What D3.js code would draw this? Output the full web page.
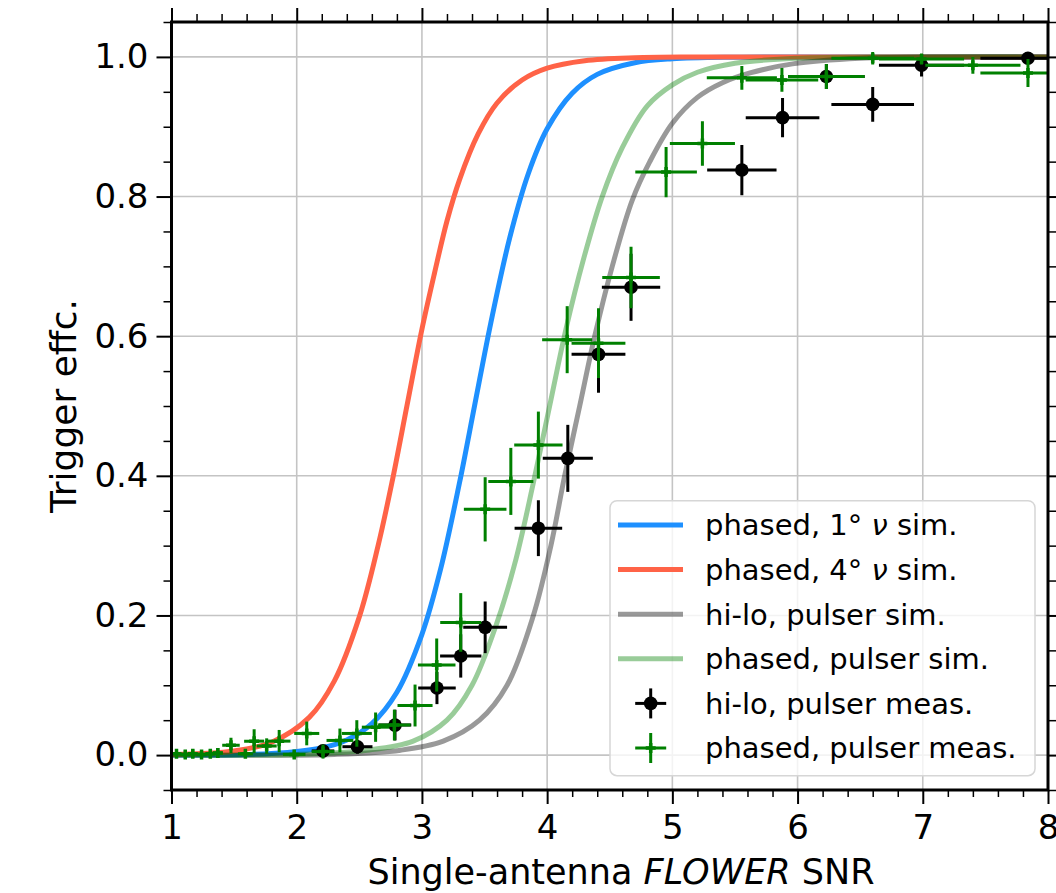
<!DOCTYPE html>
<html>
<head>
<meta charset="utf-8">
<script src="https://cdn.jsdelivr.net/npm/d3@7"></script>
<style>
  body { margin: 0; background: #fff; }
  svg { display: block; }
  text { font-family: "DejaVu Sans", "Noto Sans", sans-serif; fill: #000; }
</style>
</head>
<body>
<svg id="chart" width="1056" height="893"></svg>
<script>
// ---- axis ticks ----
const snrTicks = [1, 2, 3, 4, 5, 6, 7, 8];
const snrTickLabels = ["1", "2", "3", "4", "5", "6", "7", "8"];
const effTicks = [0, 0.2, 0.4, 0.6, 0.8, 1.0];
const effTickLabels = ["0.0", "0.2", "0.4", "0.6", "0.8", "1.0"];

// ---- simulated efficiency curves: [SNR, efficiency] ----
const phased1DegSim = [[1.0,0.0001],[1.8,0.0024],[2.2,0.0104],[2.4,0.0217],[2.6,0.045],[2.8,0.09],[3.0,0.173],[3.15,0.267],[3.3,0.39],[3.42,0.5],[3.55,0.619],[3.7,0.74],[3.85,0.833],[4.0,0.897],[4.2,0.948],[4.4,0.975],[4.7,0.9917],[5.0,0.9973],[5.5,0.9996],[6.5,1.0],[8,1.0]];
const phased4DegSim = [[1.0,0.001],[1.5,0.006],[1.8,0.0185],[2.1,0.054],[2.3,0.106],[2.5,0.198],[2.65,0.3],[2.76,0.39],[2.88,0.5],[3.0,0.61],[3.1,0.69],[3.2,0.765],[3.3,0.824],[3.45,0.89],[3.6,0.934],[3.8,0.967],[4.0,0.984],[4.3,0.9946],[4.7,0.9988],[5.2,0.9998],[6.0,1.0],[8,1.0]];
const hiloPulserSim = [[1.0,0],[2.3,0.001],[2.83,0.007],[3.17,0.02],[3.46,0.05],[3.68,0.1],[3.89,0.2],[4.03,0.3],[4.14,0.4],[4.26,0.5],[4.38,0.6],[4.52,0.7],[4.68,0.795],[4.82,0.85],[5.0,0.905],[5.2,0.942],[5.4,0.963],[5.62,0.977],[5.96,0.99],[6.5,0.998],[7.2,1.0],[8,1.0]];
const phasedPulserSim = [[1.0,0],[2.0,0.001],[2.56,0.007],[2.93,0.02],[3.2,0.05],[3.4,0.1],[3.6,0.19],[3.75,0.28],[3.89,0.39],[4.02,0.5],[4.15,0.61],[4.29,0.71],[4.44,0.8],[4.6,0.87],[4.8,0.93],[5.0,0.96],[5.2,0.978],[5.5,0.991],[6.0,0.998],[6.8,1.0],[8,1.0]];

// ---- hi-lo trigger, pulser measurements ----
const hiloSnr    = [2.21, 2.485, 2.785, 3.12, 3.31, 3.505, 3.93, 4.165, 4.41, 4.67, 5.555, 5.88, 6.23, 6.60, 6.99, 7.84];
const hiloEff    = [0.006, 0.012, 0.043, 0.096, 0.142, 0.183, 0.325, 0.425, 0.574, 0.670, 0.838, 0.913, 0.972, 0.932, 0.988, 0.998];
const hiloSnrErr = [0.09, 0.12, 0.13, 0.15, 0.165, 0.175, 0.19, 0.2, 0.215, 0.233, 0.277, 0.294, 0.306, 0.33, 0.34, 0.38];
const hiloEffErr = [0.008, 0.01, 0.022, 0.023, 0.031, 0.037, 0.04, 0.048, 0.055, 0.048, 0.036, 0.028, 0.018, 0.025, 0.016, 0.005];

// ---- phased trigger, pulser measurements ----
const phasedSnr    = [1.04, 1.11, 1.17, 1.24, 1.31, 1.37, 1.475, 1.59, 1.66, 1.76, 1.86, 1.98, 2.08, 2.21, 2.345, 2.48, 2.63, 2.78, 2.945, 3.118, 3.31, 3.505, 3.71, 3.93, 4.16, 4.41, 4.67, 4.95, 5.24, 5.555, 5.875, 6.23, 6.60, 6.99, 7.40, 7.84];
const phasedEff    = [0.002, 0.001, 0.002, 0.001, 0.002, 0.003, 0.014, 0.002, 0.020, 0.013, 0.020, 0.001, 0.031, 0.005, 0.021, 0.031, 0.040, 0.043, 0.071, 0.129, 0.19, 0.352, 0.392, 0.444, 0.595, 0.590, 0.684, 0.835, 0.876, 0.970, 0.967, 0.972, 0.998, 0.997, 0.988, 0.977];
const phasedSnrErr = [0.03, 0.03, 0.03, 0.03, 0.03, 0.04, 0.07, 0.06, 0.08, 0.08, 0.09, 0.09, 0.1, 0.09, 0.107, 0.12, 0.11, 0.13, 0.14, 0.15, 0.164, 0.17, 0.18, 0.193, 0.2, 0.215, 0.23, 0.246, 0.26, 0.28, 0.29, 0.306, 0.33, 0.34, 0.38, 0.38];
const phasedEffErr = [0.006, 0.006, 0.006, 0.006, 0.006, 0.007, 0.011, 0.005, 0.017, 0.011, 0.016, 0.004, 0.017, 0.01, 0.017, 0.019, 0.021, 0.022, 0.03, 0.038, 0.042, 0.046, 0.048, 0.048, 0.048, 0.05, 0.044, 0.036, 0.032, 0.017, 0.017, 0.018, 0.009, 0.008, 0.012, 0.02];

// ---- legend entries ----
const legendLabels = [
  ["phased, 1°  ", "ν", " sim."],
  ["phased, 4°  ", "ν", " sim."],
  ["hi-lo, pulser sim."],
  ["phased, pulser sim."],
  ["hi-lo, pulser meas."],
  ["phased, pulser meas."]
];

const svg = d3.select("#chart");
const plot = { left: 171.5, right: 1048, top: 22, bottom: 790 };

const x = d3.scaleLinear().domain([1, 8]).range([plot.left, plot.right]);
const y = d3.scaleLinear().domain([-0.05, 1.05]).range([plot.bottom, plot.top]);

svg.append("defs").append("clipPath").attr("id", "plot-clip")
  .append("rect")
  .attr("x", plot.left).attr("y", plot.top)
  .attr("width", plot.right - plot.left).attr("height", plot.bottom - plot.top);

// grid
const grid = svg.append("g").attr("stroke", "#c4c4c4").attr("stroke-width", 1.6);
grid.selectAll("line.gx").data(snrTicks).join("line").attr("class", "gx")
  .attr("x1", d => x(d)).attr("x2", d => x(d))
  .attr("y1", plot.top).attr("y2", plot.bottom);
grid.selectAll("line.gy").data(effTicks).join("line").attr("class", "gy")
  .attr("x1", plot.left).attr("x2", plot.right)
  .attr("y1", d => y(d)).attr("y2", d => y(d));

// minor tick positions
const minorSnr = d3.range(1, 8.0001, 0.2).filter(v => Math.abs(v - Math.round(v)) > 1e-6);
const minorEff = d3.range(-0.05, 1.0501, 0.05).filter(v => Math.abs(v * 5 - Math.round(v * 5)) > 1e-6);

function styleAxis(sel, width) {
  sel.select(".domain").remove();
  sel.selectAll(".tick line").attr("stroke", "#000").attr("stroke-width", width);
  sel.selectAll(".tick text").style("font-size", "34px").attr("fill", "#000");
}

const labelFor = (ticks, labels) => d => labels[ticks.findIndex(t => Math.abs(t - d) < 1e-9)];

// bottom axis
svg.append("g").attr("transform", `translate(0,${plot.bottom})`)
  .call(d3.axisBottom(x).tickValues(snrTicks).tickSize(14).tickPadding(11)
    .tickFormat(labelFor(snrTicks, snrTickLabels)))
  .call(s => styleAxis(s, 2));
svg.append("g").attr("transform", `translate(0,${plot.bottom})`)
  .call(d3.axisBottom(x).tickValues(minorSnr).tickSize(7).tickFormat(""))
  .call(s => styleAxis(s, 1.5));
// top axis
svg.append("g").attr("transform", `translate(0,${plot.top})`)
  .call(d3.axisTop(x).tickValues(snrTicks).tickSize(14).tickFormat(""))
  .call(s => styleAxis(s, 2));
svg.append("g").attr("transform", `translate(0,${plot.top})`)
  .call(d3.axisTop(x).tickValues(minorSnr).tickSize(8).tickFormat(""))
  .call(s => styleAxis(s, 1.5));
// left axis
svg.append("g").attr("transform", `translate(${plot.left},0)`)
  .call(d3.axisLeft(y).tickValues(effTicks).tickSize(15).tickPadding(8)
    .tickFormat(labelFor(effTicks, effTickLabels)))
  .call(s => styleAxis(s, 2));
svg.append("g").attr("transform", `translate(${plot.left},0)`)
  .call(d3.axisLeft(y).tickValues(minorEff).tickSize(8).tickFormat(""))
  .call(s => styleAxis(s, 1.5));
// right axis
svg.append("g").attr("transform", `translate(${plot.right},0)`)
  .call(d3.axisRight(y).tickValues(effTicks).tickSize(15).tickFormat(""))
  .call(s => styleAxis(s, 2));
svg.append("g").attr("transform", `translate(${plot.right},0)`)
  .call(d3.axisRight(y).tickValues(minorEff).tickSize(8).tickFormat(""))
  .call(s => styleAxis(s, 1.5));

// simulated curves
const line = d3.line().x(d => x(d[0])).y(d => y(d[1])).curve(d3.curveCatmullRom.alpha(0.5));
const curves = [
  { data: phased1DegSim, color: "#1e90ff", opacity: 1 },
  { data: phased4DegSim, color: "#ff6347", opacity: 1 },
  { data: hiloPulserSim, color: "#000000", opacity: 0.4 },
  { data: phasedPulserSim, color: "#008000", opacity: 0.4 }
];
const curveLayer = svg.append("g").attr("clip-path", "url(#plot-clip)");
curveLayer.selectAll("path").data(curves).join("path")
  .attr("d", d => line(d.data))
  .attr("fill", "none")
  .attr("stroke", d => d.color)
  .attr("stroke-opacity", d => d.opacity)
  .attr("stroke-width", 5);

// measured points with error bars
function drawErrorbars(snr, eff, snrErr, effErr, color, marker) {
  const pts = snr.map((s, i) => ({ s, e: eff[i], se: snrErr[i], ee: effErr[i] }));
  const layer = svg.append("g").attr("clip-path", "url(#plot-clip)")
    .attr("stroke", color).attr("stroke-width", 3);
  layer.selectAll("line.h").data(pts).join("line").attr("class", "h")
    .attr("x1", d => x(d.s - d.se)).attr("x2", d => x(d.s + d.se))
    .attr("y1", d => y(d.e)).attr("y2", d => y(d.e));
  layer.selectAll("line.v").data(pts).join("line").attr("class", "v")
    .attr("x1", d => x(d.s)).attr("x2", d => x(d.s))
    .attr("y1", d => y(d.e - d.ee)).attr("y2", d => y(d.e + d.ee));
  if (marker === "dot") {
    layer.selectAll("circle").data(pts).join("circle")
      .attr("cx", d => x(d.s)).attr("cy", d => y(d.e)).attr("r", 6.8)
      .attr("fill", color).attr("stroke", "none");
  } else {
    layer.selectAll("path.plus").data(pts).join("path").attr("class", "plus")
      .attr("d", d => `M${x(d.s) - 5},${y(d.e)}H${x(d.s) + 5}M${x(d.s)},${y(d.e) - 5}V${y(d.e) + 5}`)
      .attr("stroke-width", 3.5).attr("fill", "none");
  }
}
drawErrorbars(hiloSnr, hiloEff, hiloSnrErr, hiloEffErr, "#000000", "dot");
drawErrorbars(phasedSnr, phasedEff, phasedSnrErr, phasedEffErr, "#008000", "plus");

// frame
svg.append("rect")
  .attr("x", plot.left).attr("y", plot.top)
  .attr("width", plot.right - plot.left).attr("height", plot.bottom - plot.top)
  .attr("fill", "none").attr("stroke", "#000").attr("stroke-width", 3);

// axis titles
svg.append("text")
  .attr("x", 621).attr("y", 884)
  .attr("text-anchor", "middle")
  .style("font-size", "35px")
  .call(t => {
    t.append("tspan").text("Single-antenna ");
    t.append("tspan").style("font-style", "italic").text("FLOWER");
    t.append("tspan").text(" SNR");
  });
svg.append("text")
  .attr("transform", `translate(76,${(plot.top + plot.bottom) / 2}) rotate(-90)`)
  .attr("text-anchor", "middle")
  .style("font-size", "36px")
  .text("Trigger effc.");

// legend
const legend = svg.append("g").attr("transform", "translate(610,500.7)");
legend.append("rect")
  .attr("width", 425).attr("height", 275).attr("rx", 7)
  .attr("fill", "#fff").attr("fill-opacity", 0.8)
  .attr("stroke", "#d6d6d6").attr("stroke-width", 1.5);
const rowY = i => 24.3 + i * 44.6;
curves.forEach((c, i) => {
  legend.append("line")
    .attr("x1", 8).attr("x2", 73).attr("y1", rowY(i)).attr("y2", rowY(i))
    .attr("stroke", c.color).attr("stroke-opacity", c.opacity).attr("stroke-width", 5);
});
[["#000000", "dot"], ["#008000", "plus"]].forEach(([color, marker], j) => {
  const cy = rowY(4 + j), cx = 40.7;
  const g = legend.append("g").attr("stroke", color).attr("stroke-width", 3);
  g.append("line").attr("x1", cx - 15.5).attr("x2", cx + 15.5).attr("y1", cy).attr("y2", cy);
  g.append("line").attr("x1", cx).attr("x2", cx).attr("y1", cy - 15).attr("y2", cy + 15);
  if (marker === "dot") g.append("circle").attr("cx", cx).attr("cy", cy).attr("r", 6.8).attr("fill", color).attr("stroke", "none");
  else g.append("path").attr("d", `M${cx - 5},${cy}H${cx + 5}M${cx},${cy - 5}V${cy + 5}`).attr("stroke-width", 3.5);
});
legendLabels.forEach((parts, i) => {
  const t = legend.append("text")
    .attr("x", 95).attr("y", rowY(i)).attr("dy", "0.36em")
    .style("font-size", "29px");
  parts.forEach(p => {
    const span = t.append("tspan").text(p);
    if (p === "ν") span.style("font-style", "italic");
  });
});
</script>
</body>
</html>
